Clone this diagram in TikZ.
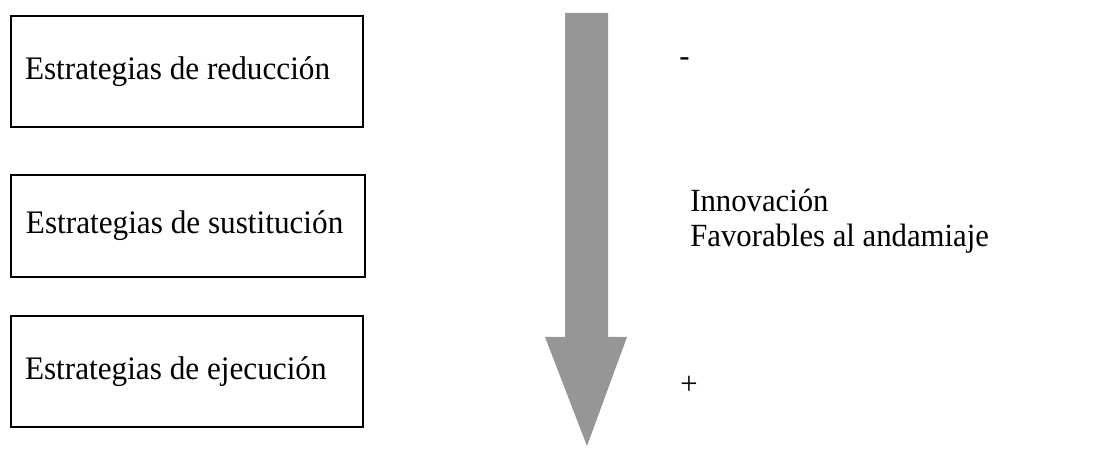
\documentclass[tikz,border=0pt]{standalone}
\usepackage{fontspec}
\setmainfont[FakeStretch=0.95]{Liberation Serif}
\usepackage{tikz}
\definecolor{flechagris}{RGB}{150,150,150}
\tikzset{
  estrategia/.style={draw, line width=1.1pt, minimum width=7.04cm, minimum height=2.22cm,
    inner xsep=0.28cm, text width=6.48cm, align=flush left, font=\fontsize{18.7}{20.1}\selectfont},
  etiqueta/.style={anchor=base west, inner sep=0pt}
}

\begin{document}
\begin{tikzpicture}[line join=miter, font=\fontsize{18.4}{20.1}\selectfont]
\useasboundingbox (0,0) rectangle (21.98,9.24);

\node (reduccion) at (3.74, 7.81) [estrategia] {Estrategias de reducción};
\node (sustitucion) at (3.76, 4.72) [estrategia, minimum width=7.08cm, minimum height=2.04cm] {Estrategias de sustitución};
\node (ejecucion) at (3.74, 1.81) [estrategia] {Estrategias de ejecución};

% flecha gruesa
\fill[flechagris] (11.30,8.98) -- (12.16,8.98) -- (12.16,2.50) -- (12.54,2.50)
  -- (11.74,0.32) -- (10.90,2.50) -- (11.30,2.50) -- cycle;

\node (menos) at (13.58, 7.90) [etiqueta] {-};
\node (criterios) at (13.80, 4.30) [etiqueta, align=left] {Innovación\\Favorables al andamiaje};
\node (mas) at (13.60, 1.34) [etiqueta] {+};

\end{tikzpicture}
\end{document}
